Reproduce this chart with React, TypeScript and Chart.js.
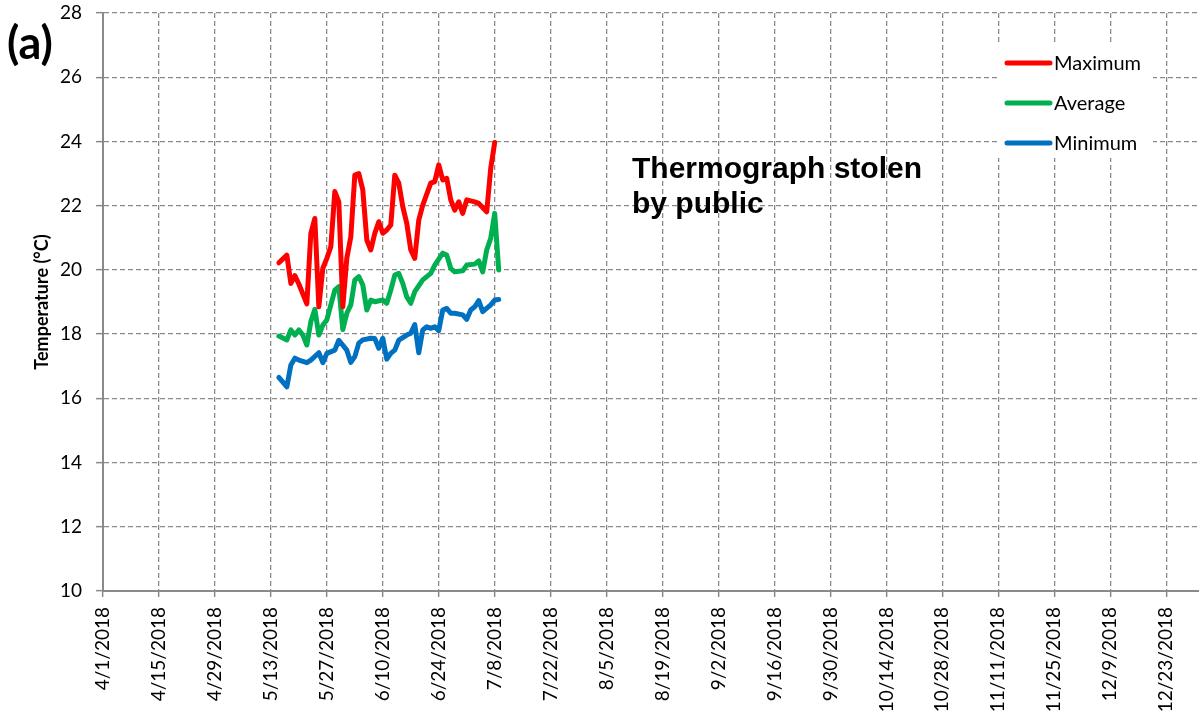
import React, { useEffect, useRef } from "react";
import { Chart, registerables } from "chart.js";

Chart.register(...registerables);

// x values are days counted from 4/1/2018
const xTickLabels = [
  "4/1/2018", "4/15/2018", "4/29/2018", "5/13/2018", "5/27/2018", "6/10/2018", "6/24/2018",
  "7/8/2018", "7/22/2018", "8/5/2018", "8/19/2018", "9/2/2018", "9/16/2018", "9/30/2018",
  "10/14/2018", "10/28/2018", "11/11/2018", "11/25/2018", "12/9/2018", "12/23/2018",
];

const maxDays = [44, 46, 47, 48, 49, 51, 52, 53, 54, 55, 56, 57, 58, 59, 60, 61, 62, 63, 64, 65, 66, 67, 68, 69, 70, 71, 72, 73, 74, 75, 76, 77, 78, 79, 80, 82, 83, 84, 85, 86, 87, 88, 89, 90, 91, 93, 94, 96, 97, 98];
const maxTemps = [20.22, 20.46, 19.58, 19.82, 19.56, 18.94, 21.14, 21.6, 18.85, 20.05, 20.36, 20.72, 22.44, 22.12, 18.85, 20.36, 21.03, 22.95, 23.0, 22.49, 20.93, 20.62, 21.14, 21.5, 21.14, 21.24, 21.4, 22.95, 22.7, 21.97, 21.45, 20.62, 20.36, 21.55, 22.02, 22.7, 22.75, 23.27, 22.8, 22.85, 22.18, 21.86, 22.12, 21.76, 22.18, 22.12, 22.07, 21.81, 23.16, 23.97];

const avgDays = [44, 46, 47, 48, 49, 50, 51, 52, 53, 54, 55, 56, 57, 58, 59, 60, 61, 62, 63, 64, 65, 66, 67, 68, 70, 71, 72, 73, 74, 75, 76, 77, 78, 80, 81, 82, 83, 85, 86, 87, 88, 90, 91, 93, 94, 95, 96, 97, 98, 99];
const avgTemps = [17.94, 17.82, 18.13, 17.97, 18.13, 17.97, 17.66, 18.39, 18.77, 17.97, 18.28, 18.44, 18.91, 19.37, 19.48, 18.14, 18.65, 18.91, 19.69, 19.79, 19.53, 18.75, 19.06, 19.01, 19.06, 18.96, 19.37, 19.84, 19.89, 19.58, 19.16, 18.96, 19.32, 19.69, 19.79, 19.89, 20.15, 20.52, 20.46, 20.05, 19.94, 19.97, 20.15, 20.18, 20.28, 19.94, 20.62, 20.98, 21.76, 20.0];

const minDays = [44, 46, 47, 48, 49, 51, 52, 54, 55, 56, 58, 59, 61, 62, 63, 64, 65, 67, 68, 69, 70, 71, 72, 73, 74, 76, 77, 78, 79, 80, 81, 82, 83, 84, 85, 86, 87, 88, 90, 91, 92, 93, 94, 95, 97, 98, 99];
const minTemps = [16.65, 16.36, 17.04, 17.25, 17.19, 17.11, 17.19, 17.42, 17.11, 17.4, 17.5, 17.81, 17.5, 17.12, 17.3, 17.72, 17.82, 17.87, 17.86, 17.56, 17.87, 17.22, 17.4, 17.5, 17.81, 17.97, 18.03, 18.3, 17.42, 18.13, 18.23, 18.18, 18.23, 18.11, 18.75, 18.8, 18.65, 18.65, 18.6, 18.46, 18.75, 18.85, 19.04, 18.7, 18.91, 19.06, 19.08];

const seriesNames = ["Maximum", "Average", "Minimum"];
const seriesColors = ["#FF0000", "#00B050", "#0070C0"];
const annotationLines = ["Thermograph stolen", "by public"];
const panelLabel = "(a)";

const FONT = "Lato";
const GRID = "#8a8a8a";

const overlayPlugin = {
  id: "overlay",
  afterDraw(chart: any) {
    const ctx = chart.ctx as CanvasRenderingContext2D;
    ctx.save();
    // legend box
    ctx.fillStyle = "#ffffff";
    ctx.fillRect(998, 45, 155, 113);
    chart.data.datasets.forEach((ds: any, i: number) => {
      const y = 63 + i * 40;
      ctx.strokeStyle = ds.borderColor;
      ctx.lineWidth = 5;
      ctx.lineCap = "round";
      ctx.beginPath();
      ctx.moveTo(1007, y);
      ctx.lineTo(1050, y);
      ctx.stroke();
      ctx.fillStyle = "#000";
      ctx.font = `20px ${FONT}`;
      ctx.textBaseline = "middle";
      ctx.textAlign = "left";
      ctx.fillText(ds.label, 1054, y + 1);
    });
    // annotation
    ctx.fillStyle = "#000";
    ctx.font = `bold 30px "Liberation Sans"`;
    ctx.textBaseline = "middle";
    annotationLines.forEach((t, i) => ctx.fillText(t, 632, 170 + i * 35));
    // panel label
    ctx.font = `bold 45px ${FONT}`;
    ctx.fillText(panelLabel, 7, 44);
    ctx.restore();
  },
};

export default function App() {
  const ref = useRef<HTMLCanvasElement | null>(null);
  useEffect(() => {
    document.body.style.margin = "0";
    const canvas = ref.current!;
    const mk = (days: number[], vals: number[]) => days.map((d, i) => ({ x: d, y: vals[i] }));
    const chart = new Chart(canvas, {
      type: "line",
      data: {
        datasets: [
          { label: seriesNames[0], data: mk(maxDays, maxTemps), borderColor: seriesColors[0], backgroundColor: seriesColors[0] },
          { label: seriesNames[1], data: mk(avgDays, avgTemps), borderColor: seriesColors[1], backgroundColor: seriesColors[1] },
          { label: seriesNames[2], data: mk(minDays, minTemps), borderColor: seriesColors[2], backgroundColor: seriesColors[2] },
        ].map((d) => ({ ...d, borderWidth: 5, pointRadius: 0, tension: 0, borderJoinStyle: "round" as const, borderCapStyle: "round" as const })),
      },
      options: {
        responsive: false,
        animation: false,
        layout: { padding: { top: 13, left: 0, right: 0, bottom: 0 } },
        plugins: { legend: { display: false }, tooltip: { enabled: false } },
        scales: {
          x: {
            type: "linear",
            min: 0,
            max: 274,
            afterFit: (s: any) => { s.height = 128; },
            ticks: {
              stepSize: 14,
              includeBounds: false,
              autoSkip: false,
              minRotation: 90,
              maxRotation: 90,
              padding: 10,
              color: "#000",
              font: { family: FONT, size: 19 },
              callback: (v: any) => xTickLabels[Math.round(Number(v) / 14)] ?? "",
            },
            grid: { color: GRID, lineWidth: 1.3, tickLength: 6, tickBorderDash: [0, 0], tickColor: GRID, tickWidth: 1.5 } as any,
            border: { display: true, color: GRID, width: 2, dash: [5, 3] } as any,
          },
          y: {
            type: "linear",
            min: 10,
            max: 28,
            afterFit: (s: any) => { s.width = 103; s.paddingTop = 0; s.paddingBottom = 0; },
            ticks: { stepSize: 2, padding: 14, color: "#000", font: { family: FONT, size: 19 } },
            grid: { color: GRID, lineWidth: 1.3, tickLength: 7, tickBorderDash: [0, 0], tickColor: GRID, tickWidth: 1.5 } as any,
            border: { display: true, color: GRID, width: 2, dash: [5, 3] } as any,
            title: {
              display: true,
              text: "Temperature (°C)",
              color: "#000",
              font: { family: FONT, size: 18, weight: "bold" },
              padding: { top: 31, bottom: 0 },
            },
          },
        },
      },
      plugins: [overlayPlugin],
    });
    return () => chart.destroy();
  }, []);
  return (
    <div style={{ width: 1199, height: 719 }}>
      <canvas ref={ref} width={1199} height={719} style={{ display: "block" }} />
    </div>
  );
}
